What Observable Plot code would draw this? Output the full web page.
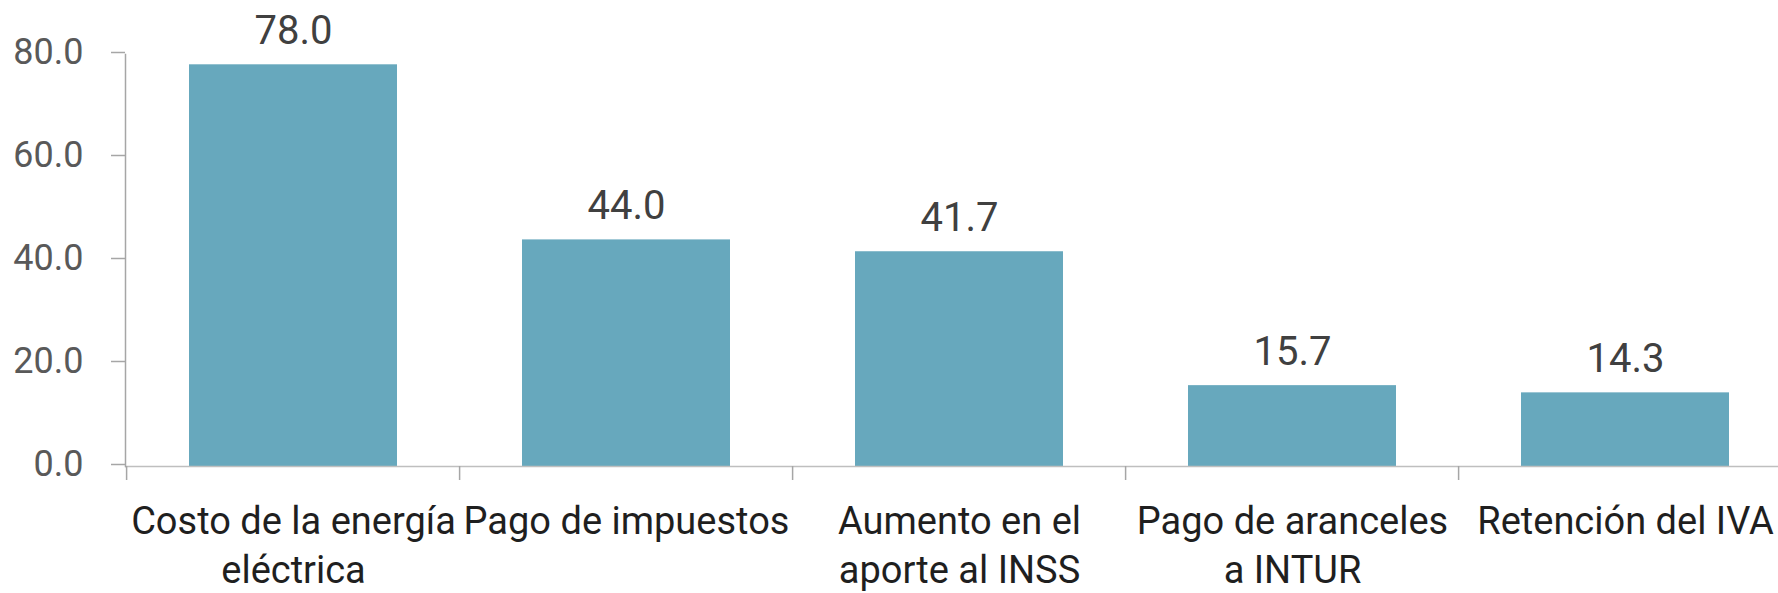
<!DOCTYPE html>
<html>
<head>
<meta charset="utf-8">
<script src="https://cdn.jsdelivr.net/npm/d3@7"></script>
<script src="https://cdn.jsdelivr.net/npm/@observablehq/plot@0.6"></script>
<style>
  html, body { margin: 0; padding: 0; background: #ffffff; }
  #chart svg { display: block; }
</style>
</head>
<body>
<div id="chart"></div>
<script>
// ---- data ----
const categories = [
  "Costo de la energía eléctrica",
  "Pago de impuestos",
  "Aumento en el aporte al INSS",
  "Pago de aranceles a INTUR",
  "Retención del IVA"
];
const categoryLabels = [
  "Costo de la energía\neléctrica",
  "Pago de impuestos",
  "Aumento en el\naporte al INSS",
  "Pago de aranceles\na INTUR",
  "Retención del IVA"
];
const values = [78.0, 44.0, 41.7, 15.7, 14.3];
const yTicks = [0, 20, 40, 60, 80];

const data = categories.map((c, i) => ({category: c, label: categoryLabels[i], value: values[i]}));

// ---- layout ----
const W = 1778, H = 593;
const mL = 125, mR = -16, mT = 54, mB = 127;
const step = (W - mL - mR) / categories.length;
const fmt = d3.format(".1f");

const chart = Plot.plot({
  width: W,
  height: H,
  marginLeft: mL,
  marginRight: mR,
  marginTop: mT,
  marginBottom: mB,
  style: {background: "#ffffff"},
  x: {domain: categories, paddingInner: 0.375, paddingOuter: 0.1875, axis: null},
  y: {domain: [0, 80], axis: null, label: null},
  marks: [
    Plot.barY(data, {x: "category", y: "value", fill: "#67a8bd"}),
    Plot.ruleY([0], {stroke: "#bfbfbf", strokeWidth: 1.5}),
    Plot.frame({anchor: "left", stroke: "#a6a6a6", strokeWidth: 1.5}),
    Plot.ruleX(categories, {x: d => d, dx: -step / 2, y1: 0, y2: 0, insetBottom: -14, stroke: "#a6a6a6", strokeWidth: 1.5}),
    Plot.axisY({
      ticks: yTicks,
      tickFormat: fmt,
      label: null,
      tickSize: 14,
      tickPadding: 28,
      stroke: "#a6a6a6",
      strokeWidth: 1.5,
      fill: "#595959",
      fontSize: 36,
      fontFamily: "Roboto",
      dy: -2
    }),
    Plot.text(data, {
      x: "category",
      y: "value",
      text: d => fmt(d.value),
      lineAnchor: "middle",
      dy: -33.5,
      fontSize: 40,
      fontFamily: "Roboto",
      fill: "#404040",
      ariaLabel: "value-labels"
    }),
    Plot.text(data, {
      x: "category",
      text: "label",
      frameAnchor: "bottom",
      lineAnchor: "top",
      dy: 32,
      lineHeight: 1.3,
      fontSize: 38,
      fontFamily: "Roboto",
      fill: "#1f1f1f"
    })
  ]
});

// condense the value labels horizontally, like the reference's narrow numerals
d3.select(chart).selectAll('g[aria-label="value-labels"] text').each(function () {
  const t = this.getAttribute("transform") || "";
  this.setAttribute("transform", t + " scale(0.84,1)");
});

document.getElementById("chart").appendChild(chart);
</script>
</body>
</html>
